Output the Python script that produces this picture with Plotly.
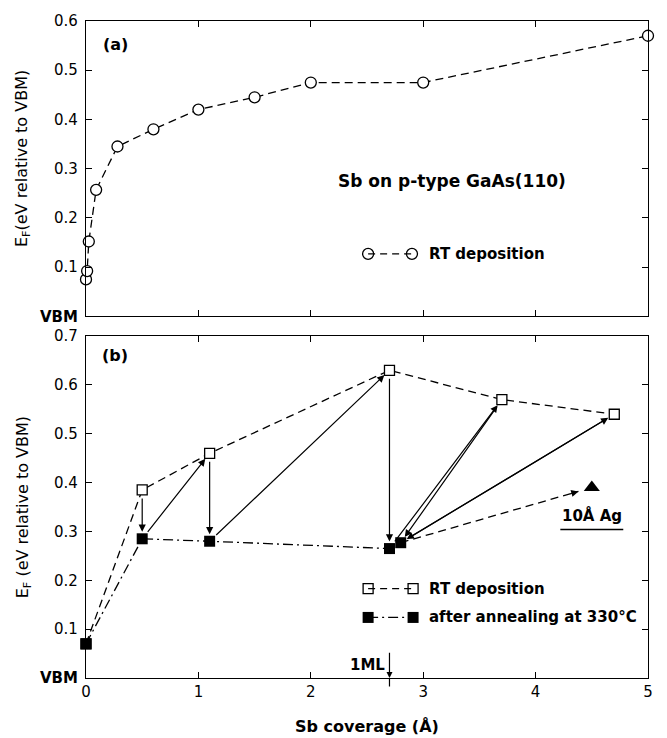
import plotly.graph_objects as go

# ---------------- data ----------------
# Panel (a): Sb on p-type GaAs(110), RT deposition
a_x = [0.0, 0.01, 0.025, 0.09, 0.28, 0.6, 1.0, 1.5, 2.0, 3.0, 5.0]
a_y = [0.075, 0.092, 0.152, 0.257, 0.345, 0.38, 0.42, 0.445, 0.475, 0.475, 0.57]

# Panel (b): RT deposition and after annealing at 330 C
rt_x = [0.0, 0.5, 1.1, 2.7, 3.7, 4.7]
rt_y = [0.07, 0.385, 0.46, 0.63, 0.57, 0.54]
an_x = [0.0, 0.5, 1.1, 2.7, 2.8]
an_y = [0.07, 0.285, 0.28, 0.265, 0.277]
ag_x = [4.5]
ag_y = [0.39]

# sequence of treatments (from series, index) -> (to series, index)
steps = [("rt", 1, "an", 1), ("an", 1, "rt", 2), ("rt", 2, "an", 2),
         ("an", 2, "rt", 3), ("rt", 3, "an", 3), ("an", 3, "rt", 4),
         ("rt", 4, "an", 4), ("an", 4, "rt", 5), ("rt", 5, "an", 4)]

x_ticks = [0, 1, 2, 3, 4, 5]
a_yticks = [0, 0.1, 0.2, 0.3, 0.4, 0.5, 0.6]
a_yticktext = ["<b>VBM</b>", "0.1", "0.2", "0.3", "0.4", "0.5", "0.6"]
b_yticks = [0, 0.1, 0.2, 0.3, 0.4, 0.5, 0.6, 0.7]
b_yticktext = ["<b>VBM</b>", "0.1", "0.2", "0.3", "0.4", "0.5", "0.6", "0.7"]
ML_x = 2.7

FONT = "DejaVu Sans"
BLK = "black"

series = {"rt": (rt_x, rt_y), "an": (an_x, an_y)}

fig = go.Figure()

# ---------------- panel (a) ----------------
fig.add_trace(go.Scatter(
    x=a_x, y=a_y, mode="lines+markers", xaxis="x2", yaxis="y2",
    line=dict(color=BLK, width=1.3, dash="8px,5px"),
    marker=dict(symbol="circle", size=11, color="white",
                line=dict(color=BLK, width=1.3)),
    cliponaxis=False, showlegend=False))

# legend glyph (a)
fig.add_trace(go.Scatter(
    x=[2.51, 2.90], y=[0.127, 0.127], mode="lines+markers", xaxis="x2", yaxis="y2",
    line=dict(color=BLK, width=1.3, dash="7px,5px"),
    marker=dict(symbol="circle-open", size=11, color=BLK, line=dict(width=1.3)),
    showlegend=False))

# ---------------- panel (b) ----------------
fig.add_trace(go.Scatter(
    x=rt_x, y=rt_y, mode="lines+markers", xaxis="x", yaxis="y",
    line=dict(color=BLK, width=1.3, dash="8px,5px"),
    marker=dict(symbol="square", size=10, color="white",
                line=dict(color=BLK, width=1.3)),
    cliponaxis=False, showlegend=False))
fig.add_trace(go.Scatter(
    x=an_x, y=an_y, mode="lines+markers", xaxis="x", yaxis="y",
    line=dict(color=BLK, width=1.3, dash="10px,4px,2px,4px"),
    marker=dict(symbol="square", size=11, color=BLK),
    cliponaxis=False, showlegend=False))

# Ag deposition: dashed arrow to triangle
sx, sy = an_x[4], an_y[4]
ex, ey = ag_x[0], ag_y[0]
f_tip = 0.93
tipx, tipy = sx + f_tip * (ex - sx), sy + f_tip * (ey - sy)
fig.add_trace(go.Scatter(
    x=[sx, tipx], y=[sy, tipy], mode="lines", xaxis="x", yaxis="y",
    line=dict(color=BLK, width=1.3, dash="8px,5px"), showlegend=False))
fig.add_trace(go.Scatter(
    x=ag_x, y=ag_y, mode="markers", xaxis="x", yaxis="y",
    marker=dict(symbol="triangle-up", size=14, color=BLK), showlegend=False))

# legend glyphs (b)
fig.add_trace(go.Scatter(
    x=[2.51, 2.91], y=[0.183, 0.183], mode="lines+markers", xaxis="x", yaxis="y",
    line=dict(color=BLK, width=1.3, dash="7px,5px"),
    marker=dict(symbol="square-open", size=10, color=BLK, line=dict(width=1.3)),
    showlegend=False))
fig.add_trace(go.Scatter(
    x=[2.51, 2.91], y=[0.124, 0.124], mode="lines+markers", xaxis="x", yaxis="y",
    line=dict(color=BLK, width=1.3, dash="10px,4px,2px,4px"),
    marker=dict(symbol="square", size=11, color=BLK),
    showlegend=False))

annotations = []
# treatment arrows
for s_from, i_from, s_to, i_to in steps:
    x0, y0 = series[s_from][0][i_from], series[s_from][1][i_from]
    x1, y1 = series[s_to][0][i_to], series[s_to][1][i_to]
    annotations.append(dict(
        x=x1, y=y1, ax=x0, ay=y0, xref="x", yref="y", axref="x", ayref="y",
        text="", showarrow=True, arrowhead=2, arrowsize=1.2, arrowwidth=1.2,
        arrowcolor=BLK, standoff=7, startstandoff=7))
# head on Ag arrow
annotations.append(dict(
    x=tipx, y=tipy, ax=sx + (f_tip - 0.05) * (ex - sx), ay=sy + (f_tip - 0.05) * (ey - sy),
    xref="x", yref="y", axref="x", ayref="y", text="", showarrow=True,
    arrowhead=2, arrowsize=1.2, arrowwidth=1.2, arrowcolor=BLK))

# 1ML marker
annotations.append(dict(
    x=ML_x, y=0.0, ax=ML_x, ay=0.055, xref="x", yref="y", axref="x", ayref="y",
    text="", showarrow=True, arrowhead=2, arrowsize=1.0, arrowwidth=1.2,
    arrowcolor=BLK))
annotations.append(dict(
    x=ML_x, y=0.0, ax=0, ay=10, xref="x", yref="y", text="", showarrow=True,
    arrowhead=0, arrowwidth=1.2, arrowcolor=BLK))
annotations.append(dict(
    x=ML_x, y=0.026, xref="x", yref="y", text="<b>1ML</b>", showarrow=False,
    xanchor="right", yanchor="middle", xshift=-2,
    font=dict(family=FONT, size=15, color=BLK)))

# texts
annotations += [
    dict(x=0.26, y=0.553, xref="x2", yref="y2", text="<b>(a)</b>", showarrow=False,
         xanchor="center", yanchor="middle", font=dict(family=FONT, size=16, color=BLK)),
    dict(x=0.26, y=0.66, xref="x", yref="y", text="<b>(b)</b>", showarrow=False,
         xanchor="center", yanchor="middle", font=dict(family=FONT, size=16, color=BLK)),
    dict(x=3.26, y=0.274, xref="x2", yref="y2", text="<b>Sb on p-type GaAs(110)</b>",
         showarrow=False, xanchor="center", yanchor="middle",
         font=dict(family=FONT, size=17, color=BLK)),
    dict(x=3.03, y=0.127, xref="x2", yref="y2", text="<b>RT deposition</b>",
         showarrow=False, xanchor="left", yanchor="middle",
         font=dict(family=FONT, size=15, color=BLK)),
    dict(x=3.03, y=0.183, xref="x", yref="y", text="<b>RT deposition</b>",
         showarrow=False, xanchor="left", yanchor="middle",
         font=dict(family=FONT, size=15, color=BLK)),
    dict(x=3.03, y=0.124, xref="x", yref="y", text="<b>after annealing at 330°C</b>",
         showarrow=False, xanchor="left", yanchor="middle",
         font=dict(family=FONT, size=15, color=BLK)),
    dict(x=4.5, y=0.333, xref="x", yref="y", text="<b>10Å Ag</b>",
         showarrow=False, xanchor="center", yanchor="middle",
         font=dict(family=FONT, size=15, color=BLK)),
    dict(x=-0.112, y=0.79, xref="paper", yref="paper",
         text="E<sub>F</sub>(eV relative to VBM)", textangle=-90, showarrow=False,
         xanchor="center", yanchor="middle", font=dict(family=FONT, size=16, color=BLK)),
    dict(x=-0.112, y=0.26, xref="paper", yref="paper",
         text="E<sub>F</sub> (eV relative to VBM)", textangle=-90, showarrow=False,
         xanchor="center", yanchor="middle", font=dict(family=FONT, size=16, color=BLK)),
    dict(x=0.5, y=0, xref="paper", yref="paper", text="<b>Sb coverage (Å)</b>",
         showarrow=False, xanchor="center", yanchor="middle", yshift=-48,
         font=dict(family=FONT, size=16, color=BLK)),
]

shapes = [dict(type="line", xref="x", yref="y", x0=4.22, x1=4.78, y0=0.304, y1=0.304,
               line=dict(color=BLK, width=1.3))]

axis_common = dict(showline=True, linecolor=BLK, linewidth=1.3, mirror="allticks",
                   ticks="inside", ticklen=6, tickcolor=BLK, tickwidth=1.2,
                   showgrid=False, zeroline=False,
                   tickfont=dict(family=FONT, size=15, color=BLK))

fig.update_layout(
    width=667, height=738,
    margin=dict(l=86, r=19, t=15, b=60),
    paper_bgcolor="white", plot_bgcolor="white",
    showlegend=False,
    xaxis=dict(domain=[0, 1], range=[0, 5], tickvals=x_ticks,
               ticktext=[str(v) for v in x_ticks], anchor="y", **axis_common),
    yaxis=dict(domain=[0, 0.5204], range=[0, 0.7], tickvals=b_yticks,
               ticktext=b_yticktext, anchor="x", ticklabelstandoff=4, **axis_common),
    xaxis2=dict(domain=[0, 1], range=[0, 5], tickvals=x_ticks, showticklabels=False,
                anchor="y2", **axis_common),
    yaxis2=dict(domain=[0.5505, 1], range=[0, 0.6], tickvals=a_yticks,
                ticktext=a_yticktext, anchor="x2", ticklabelstandoff=4, **axis_common),
    annotations=annotations,
    shapes=shapes,
)

fig.write_html("out.html")
